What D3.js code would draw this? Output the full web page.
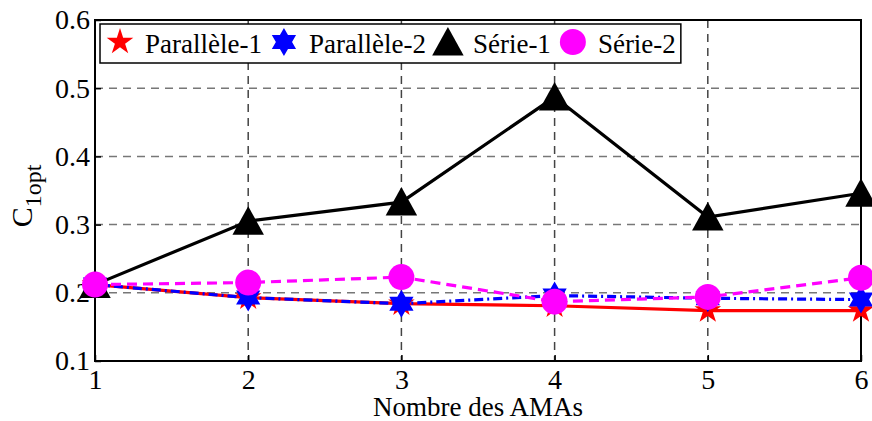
<!DOCTYPE html>
<html lang="fr">
<head>
    <meta charset="UTF-8">
    <title>C1opt vs Nombre des AMAs</title>
    <style>
        body {
            margin: 0;
            background: #fff;
        }
        svg text {
            font-family: 'Liberation Serif', 'DejaVu Serif', serif;
            fill: #000;
        }
    </style>
    <script src="https://d3js.org/d3.v7.min.js"></script>
</head>
<body>
    <div id="chart"></div>
    <script>
        // data
        var nbAMAs = [1, 2, 3, 4, 5, 6];
        var parallele1 = [0.212, 0.193, 0.184, 0.181, 0.174, 0.174];
        var parallele2 = [0.212, 0.193, 0.184, 0.196, 0.192, 0.190];
        var serie1 = [0.212, 0.305, 0.333, 0.487, 0.311, 0.346];
        var serie2 = [0.212, 0.215, 0.223, 0.187, 0.194, 0.222];
        var seriesNames = ["Parallèle-1", "Parallèle-2", "Série-1", "Série-2"];
        var yTicks = [0.1, 0.2, 0.3, 0.4, 0.5, 0.6];

        var width = 872, height = 421;
        var margin = {top: 20, right: 11, bottom: 60, left: 95};
        var serif = "'Liberation Serif', 'DejaVu Serif', serif";

        var x = d3.scaleLinear().domain([1, 6]).range([margin.left, width - margin.right]);
        var y = d3.scaleLinear().domain([0.1, 0.6]).range([height - margin.bottom, margin.top]);

        // custom marker shapes (size = outer radius)
        var pentagram = {
            draw: function(ctx, r) {
                var ri = r * 0.382;
                for (var i = 0; i < 10; i++) {
                    var a = -Math.PI / 2 + i * Math.PI / 5;
                    var rr = i % 2 ? ri : r;
                    if (i === 0) ctx.moveTo(rr * Math.cos(a), rr * Math.sin(a));
                    else ctx.lineTo(rr * Math.cos(a), rr * Math.sin(a));
                }
                ctx.closePath();
            }
        };
        var hexagram = {
            draw: function(ctx, r) {
                var ri = r / Math.sqrt(3);
                for (var i = 0; i < 12; i++) {
                    var a = -Math.PI / 2 + i * Math.PI / 6;
                    var rr = i % 2 ? ri : r;
                    if (i === 0) ctx.moveTo(rr * Math.cos(a), rr * Math.sin(a));
                    else ctx.lineTo(rr * Math.cos(a), rr * Math.sin(a));
                }
                ctx.closePath();
            }
        };
        var triangle = {
            draw: function(ctx, r) {
                ctx.moveTo(0, -r);
                ctx.lineTo(r * 1.05, r * 0.9);
                ctx.lineTo(-r * 1.05, r * 0.9);
                ctx.closePath();
            }
        };
        var circle = {
            draw: function(ctx, r) {
                ctx.moveTo(r, 0);
                ctx.arc(0, 0, r, 0, 2 * Math.PI);
            }
        };

        var series = [
            {name: seriesNames[0], values: parallele1, color: "#ff0000", dash: null, shape: pentagram, r: 14},
            {name: seriesNames[1], values: parallele2, color: "#0000ff", dash: "9,4,2,4", shape: hexagram, r: 14},
            {name: seriesNames[2], values: serie1, color: "#000000", dash: null, shape: triangle, r: 15},
            {name: seriesNames[3], values: serie2, color: "#ff00ff", dash: "10,6", shape: circle, r: 13}
        ];

        var svg = d3.select("#chart").append("svg")
            .attr("width", width)
            .attr("height", height);

        // grid
        var grid = svg.append("g");
        grid.selectAll(".hgrid")
            .data(yTicks.slice(1, -1))
            .enter().append("line")
            .attr("x1", margin.left).attr("x2", width - margin.right)
            .attr("y1", function(d) { return y(d); })
            .attr("y2", function(d) { return y(d); })
            .attr("stroke", "#777")
            .attr("stroke-width", 1.5)
            .attr("stroke-dasharray", "8,6");
        grid.selectAll(".vgrid")
            .data(nbAMAs.slice(1, -1))
            .enter().append("line")
            .attr("y1", margin.top).attr("y2", height - margin.bottom)
            .attr("x1", function(d) { return x(d); })
            .attr("x2", function(d) { return x(d); })
            .attr("stroke", "#444")
            .attr("stroke-width", 1.5)
            .attr("stroke-dasharray", "8,6");

        // axes
        var xAxis = d3.axisBottom(x).tickValues(nbAMAs).tickFormat(d3.format("d")).tickSizeInner(-6).tickSizeOuter(0).tickPadding(8);
        var yAxis = d3.axisLeft(y).tickValues(yTicks).tickFormat(d3.format(".1f")).tickSizeInner(-6).tickSizeOuter(0).tickPadding(5);

        var gx = svg.append("g")
            .attr("transform", "translate(0," + (height - margin.bottom) + ")")
            .call(xAxis);
        var gy = svg.append("g")
            .attr("transform", "translate(" + margin.left + ",0)")
            .call(yAxis);
        [gx, gy].forEach(function(g) {
            g.attr("font-family", serif);
            g.select(".domain").remove();
            g.selectAll(".tick line").attr("stroke", "#000").attr("stroke-width", 1.5);
            g.selectAll("text")
                .style("font-family", serif)
                .style("font-size", "28px")
                .attr("fill", "#000");
        });

        // plot box
        svg.append("rect")
            .attr("x", margin.left).attr("y", margin.top)
            .attr("width", width - margin.left - margin.right)
            .attr("height", height - margin.top - margin.bottom)
            .attr("fill", "none")
            .attr("stroke", "#000")
            .attr("stroke-width", 2);

        // lines and markers
        var line = d3.line()
            .x(function(d, i) { return x(nbAMAs[i]); })
            .y(function(d) { return y(d); });

        series.forEach(function(s) {
            svg.append("path")
                .attr("d", line(s.values))
                .attr("fill", "none")
                .attr("stroke", s.color)
                .attr("stroke-width", 3.2)
                .attr("stroke-dasharray", s.dash);
            svg.selectAll(null)
                .data(s.values)
                .enter().append("path")
                .attr("d", d3.symbol().type(s.shape).size(s.r))
                .attr("transform", function(d, i) { return "translate(" + x(nbAMAs[i]) + "," + y(d) + ")"; })
                .attr("fill", s.color);
        });

        // axis labels
        svg.append("text")
            .attr("x", (margin.left + width - margin.right) / 2)
            .attr("y", 416)
            .attr("text-anchor", "middle")
            .style("font-family", serif)
            .style("font-size", "27px")
            .text("Nombre des AMAs");

        var ylab = svg.append("text")
            .attr("transform", "translate(32," + 196 + ") rotate(-90)")
            .attr("text-anchor", "middle")
            .style("font-family", serif)
            .style("font-size", "30px");
        ylab.append("tspan").text("C");
        ylab.append("tspan").attr("dy", 9).style("font-size", "24px").text("1opt");

        // legend
        var legend = svg.append("g");
        var legendBox = legend.append("rect")
            .attr("y", 24).attr("height", 39)
            .attr("fill", "#fff")
            .attr("stroke", "#000")
            .attr("stroke-width", 1.5);
        var cursor = 98;
        series.forEach(function(s) {
            var mx = cursor + 22;
            legend.append("path")
                .attr("d", d3.symbol().type(s.shape).size(s.r))
                .attr("transform", "translate(" + mx + ",42)")
                .attr("fill", s.color);
            var t = legend.append("text")
                .attr("x", mx + 25)
                .attr("y", 53)
                .style("font-family", serif)
                .style("font-size", "27px")
                .text(s.name);
            cursor = mx + 25 + t.node().getComputedTextLength();
        });
        legendBox.attr("x", 100).attr("width", cursor + 5 - 100);
    </script>
</body>
</html>
